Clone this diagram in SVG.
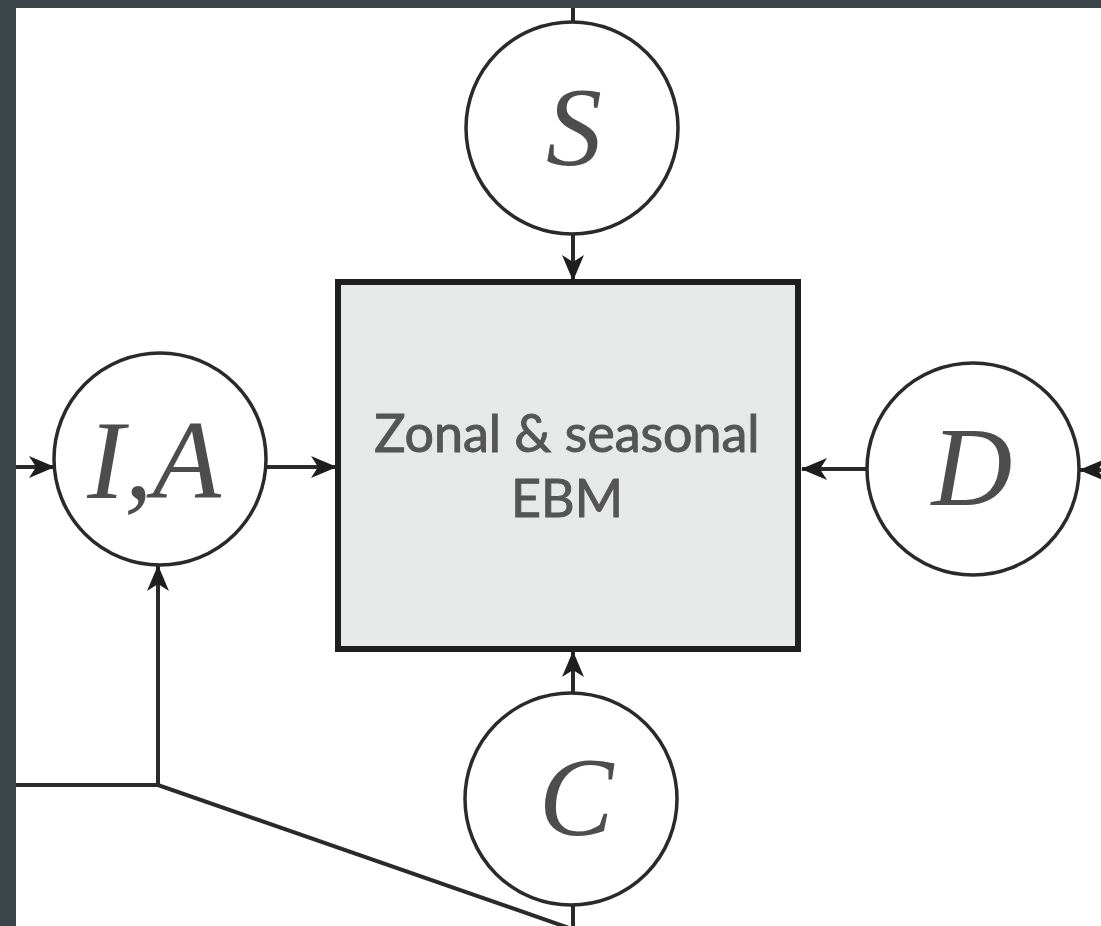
<svg xmlns="http://www.w3.org/2000/svg" width="1101" height="926" viewBox="0 0 1101 926">
  <defs>
    <marker id="arrow" viewBox="0 0 26 22" refX="25" refY="11" markerWidth="26" markerHeight="22" markerUnits="userSpaceOnUse" orient="auto">
      <path d="M0,0 L26,11 L0,22 L7,11 Z" fill="#1e1e1e"/>
    </marker>
  </defs>
  <style>
    .frame { fill: #3b4448; }
    .panel { fill: #ffffff; }
    .node { fill: #ffffff; stroke: #2a2a2a; stroke-width: 3.5; }
    .box { fill: #e6e9e7; stroke: #1f1f1f; stroke-width: 6; }
    .sym { font-family: "Liberation Serif", "Times New Roman", serif; font-style: italic; font-size: 112px; fill: #4d4d4d; text-anchor: middle; }
    .label { font-family: Lato, "Liberation Sans", sans-serif; font-weight: 400; font-size: 52px; fill: #555555; stroke: #555555; stroke-width: 1; text-anchor: middle; }
    .wire { fill: none; stroke: #2a2a2a; stroke-width: 4; }
    .wire.in { marker-end: url(#arrow); }
  </style>

  <!-- dark surround and white sheet -->
  <rect class="frame" x="0" y="0" width="1101" height="926"/>
  <rect class="panel" x="16" y="8" width="1085" height="918"/>

  <!-- connectors -->
  <g id="connectors">
    <line class="wire" x1="573" y1="8" x2="573" y2="23"/>
    <line class="wire in" x1="573" y1="234" x2="573" y2="280"/>
    <line class="wire in" x1="16" y1="467" x2="54" y2="467"/>
    <line class="wire in" x1="266" y1="467" x2="336" y2="467"/>
    <line class="wire in" x1="866" y1="469" x2="802" y2="469"/>
    <line class="wire in" x1="1101" y1="470" x2="1080" y2="470"/>
    <line class="wire in" x1="573" y1="693" x2="573" y2="652"/>
    <line class="wire" x1="573" y1="905" x2="573" y2="926"/>
    <polyline class="wire" points="16,785 158,785 572,929"/>
    <line class="wire in" x1="158" y1="785" x2="158" y2="566"/>
  </g>

  <!-- central model block -->
  <g id="ebm">
    <rect class="box" x="338" y="282" width="460" height="367"/>
    <text class="label" x="567" y="452">Zonal &amp; seasonal</text>
    <text class="label" x="567" y="517">EBM</text>
  </g>

  <g id="node-s">
    <circle class="node" cx="572" cy="128" r="106"/>
    <text class="sym" x="574" y="165">S</text>
  </g>

  <g id="node-ia">
    <circle class="node" cx="160" cy="459" r="106"/>
    <text class="sym" x="154" y="498">I,A</text>
  </g>

  <g id="node-d">
    <circle class="node" cx="973" cy="469" r="106"/>
    <text class="sym" x="972" y="505">D</text>
  </g>

  <g id="node-c">
    <circle class="node" cx="571" cy="799" r="106"/>
    <text class="sym" x="576" y="835">C</text>
  </g>
</svg>
